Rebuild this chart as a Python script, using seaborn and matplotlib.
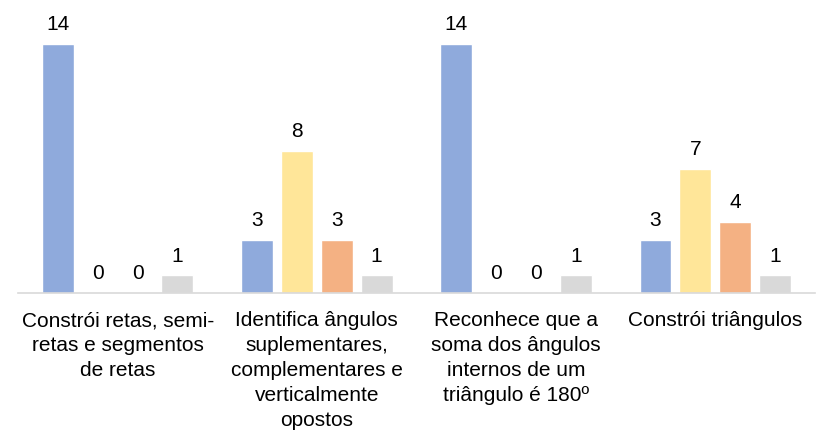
import matplotlib

matplotlib.use("Agg")

import matplotlib.pyplot as plt
import pandas as pd
import seaborn as sns

categories = [
    "Constrói retas, semi-\nretas e segmentos\nde retas",
    "Identifica ângulos\nsuplementares,\ncomplementares e\nverticalmente\nopostos",
    "Reconhece que a\nsoma dos ângulos\ninternos de um\ntriângulo é 180º",
    "Constrói triângulos",
]
series_names = ["Série 1", "Série 2", "Série 3", "Série 4"]
serie_1 = [14, 3, 14, 3]
serie_2 = [0, 8, 0, 7]
serie_3 = [0, 3, 0, 4]
serie_4 = [1, 1, 1, 1]
colors = ["#8FAADC", "#FFE699", "#F4B183", "#D9D9D9"]

records = []
for name, values in zip(series_names, [serie_1, serie_2, serie_3, serie_4]):
    for cat, val in zip(categories, values):
        records.append({"categoria": cat, "serie": name, "valor": val})
df = pd.DataFrame(records)

sns.set_theme(style="white")
plt.rcParams["font.family"] = ["Liberation Sans", "DejaVu Sans"]

fig = plt.figure(figsize=(8.19, 4.33), dpi=100)
ax = fig.add_axes([0.022, 0.323, 0.973, 0.575])

sns.barplot(
    data=df,
    x="categoria",
    y="valor",
    hue="serie",
    order=categories,
    hue_order=series_names,
    palette=colors,
    width=0.8,
    gap=0.2,
    saturation=1,
    legend=False,
    ax=ax,
)

for container in ax.containers:
    labels = ax.bar_label(container, padding=7, fontsize=15, color="#000000")
    for lbl in labels:
        lbl.set_clip_on(False)

ax.set_ylim(0, 14)
ax.set_xlim(-0.5, 3.5)
ax.set_xlabel("")
ax.set_ylabel("")
ax.set_yticks([])
for side in ["top", "right", "left"]:
    ax.spines[side].set_visible(False)
ax.spines["bottom"].set_color("#D9D9D9")
ax.spines["bottom"].set_linewidth(1.2)
ax.tick_params(axis="x", length=0, pad=13, labelsize=15, colors="#000000")
for lbl in ax.get_xticklabels():
    lbl.set_linespacing(1.4)
    lbl.set_ha("center")

fig.savefig("out.png", dpi=100)
